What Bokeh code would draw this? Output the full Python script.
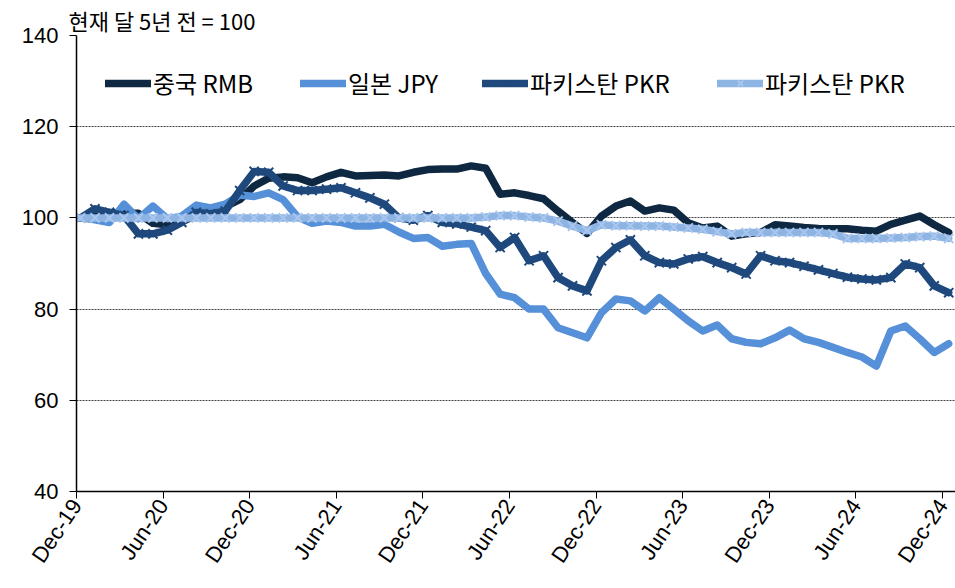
import math
from bokeh.plotting import figure
from bokeh.models import (FixedTicker, Legend, LegendItem, Range1d, Title,
                          ColumnDataSource)
from bokeh.embed import file_html
from bokeh.resources import INLINE

# month index 0 = Dec-19 ... 60 = Dec-24
months = list(range(61))

rmb = [100, 100.8, 101.2, 101, 101, 98.8, 98.5, 99.2, 100.5, 101.2,
       102.5, 104, 107, 108.7, 109, 108.8, 107.7, 109, 110, 109.2,
       109.3, 109.4, 109.2, 110, 110.6, 110.7, 110.7, 111.4, 110.9, 105.2,
       105.5, 104.9, 104.2, 101.5, 99, 96.6, 100.4, 102.6, 103.7, 101.5,
       102.2, 101.7, 98.9, 97.8, 98.2, 96, 96.5, 96.8, 98.5, 98.2,
       97.9, 97.7, 97.6, 97.6, 97.3, 97.1, 98.6, 99.5, 100.4, 98.5,
       96.8]

jpy = [100, 99.6, 99, 103, 99.8, 102.6, 99.8, 100.4, 102.8, 102.2,
       103, 105, 104.7, 105.5, 104, 100.2, 98.8, 99.3, 99, 98.2,
       98.2, 98.6, 96.9, 95.5, 95.7, 93.8, 94.2, 94.4, 87.8, 83.3,
       82.5, 80, 80, 75.9, 74.8, 73.7, 79.2, 82.2, 81.8, 79.6,
       82.5, 80, 77.4, 75.2, 76.5, 73.5, 72.7, 72.4, 73.7, 75.4,
       73.5, 72.7, 71.6, 70.5, 69.5, 67.5, 75.2, 76.3, 73.5, 70.5,
       72.4]

pkr = [100, 102, 101.2, 100.5, 96.5, 96.5, 97.3, 99, 101.2, 100.9,
       101.5, 106, 110.2, 110, 107, 106, 106, 106.3, 106.6, 105.5,
       104.4, 103, 100, 99.5, 100.5, 99, 98.7, 98, 97.2, 93.5,
       95.7, 90.6, 91.7, 86.9, 85.1, 84, 90.6, 93.5, 95.2, 91.7,
       90.2, 89.9, 91, 91.5, 90.2, 89.1, 87.7, 91.7, 90.6, 90.2,
       89.4, 88.6, 87.8, 87, 86.6, 86.4, 86.9, 89.9, 89.1, 85.1,
       83.6]

pkr2 = [100, 100, 100, 100, 100, 100, 100, 100, 100, 100,
        100, 100, 100, 100, 100, 100, 100, 100, 100, 100,
        100, 100, 100, 100, 100, 100, 100, 100, 100.2, 100.5,
        100.5, 100.2, 100, 99.3, 98.2, 97.2, 98.5, 98.3, 98.3, 98.2,
        98.2, 98, 97.8, 97.5, 97, 96.5, 96.8, 96.8, 96.8, 96.8,
        96.8, 96.8, 96.5, 95.5, 95.5, 95.5, 95.6, 95.7, 95.9, 96,
        95.5]

tick_labels = ["Dec-19", "Jun-20", "Dec-20", "Jun-21", "Dec-21", "Jun-22",
               "Dec-22", "Jun-23", "Dec-23", "Jun-24", "Dec-24"]
y_ticks = [40, 60, 80, 100, 120, 140]

series_names = ["중국 RMB", "일본 JPY", "파키스탄 PKR", "파키스탄 PKR"]
colors = ["#0e2841", "#5590d8", "#1f497d", "#8db4e2"]

tick_pos = [6 * k * 0.9975 - 0.28 for k in range(len(tick_labels))]

p = figure(width=955, height=588, output_backend="svg", toolbar_location=None,
           x_range=Range1d(-0.28, 60.47), y_range=Range1d(40, 140),
           min_border_left=76, min_border_right=0, min_border_top=35,
           min_border_bottom=97)
p.outline_line_color = None
p.background_fill_color = "white"

# axes
p.xaxis.ticker = FixedTicker(ticks=tick_pos)
p.xaxis.major_label_overrides = {t: l for t, l in zip(tick_pos, tick_labels)}
p.xaxis.major_label_orientation = 0.98
p.xaxis.major_label_text_font = "Liberation Sans"
p.xaxis.major_label_text_font_size = "22px"
p.xaxis.major_label_text_color = "black"
p.xaxis.major_tick_out = 7
p.xaxis.major_tick_in = 0
p.xaxis.minor_tick_line_color = None
p.xaxis.axis_line_color = "black"
p.xaxis.axis_line_width = 1.5
p.xaxis.major_tick_line_color = "black"
p.xaxis.major_label_standoff = 3

p.yaxis.ticker = FixedTicker(ticks=y_ticks)
p.yaxis.major_label_text_font = "Liberation Sans"
p.yaxis.major_label_text_font_size = "22px"
p.yaxis.major_label_text_color = "black"
p.yaxis.major_tick_out = 7
p.yaxis.major_tick_in = 0
p.yaxis.minor_tick_line_color = None
p.yaxis.axis_line_color = "black"
p.yaxis.axis_line_width = 1.5
p.yaxis.major_tick_line_color = "black"
p.yaxis.major_label_standoff = 11

p.xgrid.grid_line_color = None
p.ygrid.ticker = FixedTicker(ticks=y_ticks)
p.ygrid.grid_line_color = "#444444"
p.ygrid.grid_line_dash = "2 1"
p.ygrid.grid_line_width = 1

p.title = Title(text="현재 달 5년 전 = 100", text_font="Noto Sans CJK KR",
                text_font_size="22px", text_font_style="normal",
                text_color="black", align="left", offset=-8, standoff=0)

data = [rmb, jpy, pkr, pkr2]
items = []
for idx, (name, col, vals) in enumerate(zip(series_names, colors, data)):
    src = ColumnDataSource(dict(x=months, y=vals))
    r = p.line("x", "y", source=src, line_color=col, line_width=7.5,
               line_join="round", line_cap="round")
    rs = [r]
    if idx >= 2:
        mcol = "#1f497d" if idx == 2 else "#a9c6ee"
        s = p.scatter("x", "y", source=src, marker="x", size=13,
                      line_color=mcol, line_width=2)
        rs.append(s)
    items.append(LegendItem(label=name, renderers=rs))

legend_x = [29, 224, 406, 641]
for item, lx in zip(items, legend_x):
    lg = Legend(items=[item], orientation="horizontal", location=(lx, 391),
                glyph_width=46, glyph_height=20, label_text_font="Noto Sans CJK KR",
                label_text_font_size="24px", label_text_color="black",
                label_standoff=2, spacing=0, padding=0, margin=0,
                border_line_color=None, background_fill_alpha=0)
    p.add_layout(lg, "center")

open("out.html", "w").write(file_html(p, INLINE))
